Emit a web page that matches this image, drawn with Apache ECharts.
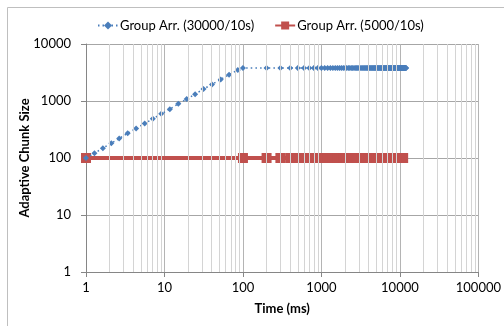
<!DOCTYPE html>
<html><head><meta charset="utf-8">
<script src="https://cdn.jsdelivr.net/npm/echarts@6/dist/echarts.min.js"></script>
<style>html,body{margin:0;padding:0;background:#fff}#c{width:504px;height:326px}</style>
</head><body><div id="c"></div>
<script>
const seriesNames = ['Group Arr. (30000/10s)', 'Group Arr. (5000/10s)'];
const blueX = [1,1.28,1.64,2.1,2.65,3.4,4.35,5.6,7.1,9.1,11.7,15,19.2,24.6,31.4,40.3,52,66.5,86,100,
200,300,400,500,600,700,800,900,1000,1100,1200,1300,1400,1500,1600,1700,1800,1900,2000,
2100,2200,2300,2400,2500,2600,2700,2800,2900,3000,3100,3200,3300,3400,3500,3600,3700,3800,3900,4000,
4100,4200,4300,4400,4500,4600,4700,4800,4900,5000,5100,5200,5300,5400,5500,5600,5700,5800,5900,6000,
6100,6200,6300,6400,6500,6600,6700,6800,6900,7000,7100,7200,7300,7400,7500,7600,7700,7800,7900,8000,
8100,8200,8300,8400,8500,8600,8700,8800,8900,9000,9100,9200,9300,9400,9500,9600,9700,9800,9900,10000,
10100,10200,10300,10400,10500,10600,10700,10800,10900,11000,11100,11200,11300,11400,11500,11600,11700,11800,11900,12000];
const blueY = [100,121,149,182,220,272,330,403,487,596,720,893,1080,1320,1620,1950,2390,2890,3490,3800,
3800,3800,3800,3800,3800,3800,3800,3800,3800,3800,3800,3800,3800,3800,3800,3800,3800,3800,3800,
3800,3800,3800,3800,3800,3800,3800,3800,3800,3800,3800,3800,3800,3800,3800,3800,3800,3800,3800,3800,
3800,3800,3800,3800,3800,3800,3800,3800,3800,3800,3800,3800,3800,3800,3800,3800,3800,3800,3800,3800,
3800,3800,3800,3800,3800,3800,3800,3800,3800,3800,3800,3800,3800,3800,3800,3800,3800,3800,3800,3800,
3800,3800,3800,3800,3800,3800,3800,3800,3800,3800,3800,3800,3800,3800,3800,3800,3800,3800,3800,3800,
3800,3800,3800,3800,3800,3800,3800,3800,3800,3800,3800,3800,3800,3800,3800,3800,3800,3800,3800,3800];
const redX = [1,100,200,300,400,500,600,700,800,900,1000,1100,1200,1300,1400,1500,1600,1700,1800,1900,2000,
2100,2200,2300,2400,2500,2600,2700,2800,2900,3000,3100,3200,3300,3400,3500,3600,3700,3800,3900,4000,
4100,4200,4300,4400,4500,4600,4700,4800,4900,5000,5100,5200,5300,5400,5500,5600,5700,5800,5900,6000,
6100,6200,6300,6400,6500,6600,6700,6800,6900,7000,7100,7200,7300,7400,7500,7600,7700,7800,7900,8000,
8100,8200,8300,8400,8500,8600,8700,8800,8900,9000,9100,9200,9300,9400,9500,9600,9700,9800,9900,10000,
10100,10200,10300,10400,10500,10600,10700,10800,10900,11000];
const redY = [100,100,100,100,100,100,100,100,100,100,100,100,100,100,100,100,100,100,100,100,100,
100,100,100,100,100,100,100,100,100,100,100,100,100,100,100,100,100,100,100,100,
100,100,100,100,100,100,100,100,100,100,100,100,100,100,100,100,100,100,100,100,
100,100,100,100,100,100,100,100,100,100,100,100,100,100,100,100,100,100,100,100,
100,100,100,100,100,100,100,100,100,100,100,100,100,100,100,100,100,100,100,100,
100,100,100,100,100,100,100,100,100,100,100];
const minorXTicks = [2,3,4,5,6,7,8,9,20,30,40,50,60,70,80,90,200,300,400,500,600,700,800,900,
2000,3000,4000,5000,6000,7000,8000,9000,20000,30000,40000,50000,60000,70000,80000,90000];
const xAxisTitle = 'Time (ms)';
const yAxisTitle = 'Adaptive Chunk Size';

const FONT = 'Lato';
const zip = (a, b) => a.map((v, i) => [v, b[i]]);

const chart = echarts.init(document.getElementById('c'), null, {renderer: 'canvas'});
chart.setOption({
  animation: false,
  backgroundColor: '#fff',
  textStyle: {fontFamily: FONT},
  graphic: [{
    type: 'rect', shape: {x: 7.5, y: 7.5, width: 600, height: 400},
    style: {fill: 'none', stroke: '#BFBFBF', lineWidth: 1}, silent: true, z: -10
  }],
  legend: {
    data: seriesNames, top: 14, left: 92, itemGap: 20, itemWidth: 20, itemHeight: 10,
    textStyle: {fontFamily: FONT, fontSize: 13, color: '#000', padding: [0, 0, 0, -3]}
  },
  grid: {left: 86, right: 25, top: 44, bottom: 54},
  xAxis: {
    type: 'log', logBase: 10, min: 1, max: 100000, splitNumber: 5,
    name: xAxisTitle, nameLocation: 'middle', nameGap: 30, nameMoveOverlap: false,
    nameTextStyle: {fontFamily: FONT, fontSize: 13, fontWeight: 'bold', color: '#000'},
    axisLine: {show: true, lineStyle: {color: '#868686', width: 1}},
    axisTick: {show: true, length: 5, lineStyle: {color: '#868686'}},
    axisLabel: {fontFamily: FONT, fontSize: 13, color: '#000', margin: 9, formatter: v => String(Math.round(v))},
    splitLine: {show: true, lineStyle: {color: '#B4B4B4', width: 1}}
  },
  yAxis: {
    type: 'log', logBase: 10, min: 1, max: 10000, splitNumber: 4,
    name: yAxisTitle, nameLocation: 'middle', nameGap: 55, nameRotate: 90, nameMoveOverlap: false,
    nameTextStyle: {fontFamily: FONT, fontSize: 13, fontWeight: 'bold', color: '#000'},
    axisLine: {show: true, lineStyle: {color: '#868686', width: 1}},
    axisTick: {show: true, length: 5, lineStyle: {color: '#868686'}},
    axisLabel: {fontFamily: FONT, fontSize: 13, color: '#000', margin: 15, formatter: v => String(Math.round(v))},
    splitLine: {show: true, lineStyle: {color: '#A6A6A6', width: 1}}
  },
  series: [
    {
      name: 'minor', type: 'line', data: [[1, 1]], showSymbol: false, symbol: 'none',
      lineStyle: {opacity: 0}, silent: true, z: 0,
      markLine: {
        silent: true, symbol: 'none', label: {show: false},
        lineStyle: {color: '#D4D4D4', width: 1, type: 'solid'},
        data: minorXTicks.map(v => ({xAxis: v}))
      }
    },
    {
      name: seriesNames[1], type: 'line', data: zip(redX, redY),
      symbol: 'rect', symbolSize: 10, color: '#C0504D',
      lineStyle: {color: '#C0504D', width: 4},
      itemStyle: {color: '#C0504D'}, z: 3
    },
    {
      name: seriesNames[0], type: 'line', data: zip(blueX, blueY),
      symbol: 'diamond', symbolSize: 6, color: '#4A7EBB', smooth: 0.3,
      lineStyle: {color: '#4A7EBB', width: 1.5, type: [1.5, 3]},
      itemStyle: {color: '#4A7EBB'}, z: 4
    }
  ]
});
</script></body></html>
